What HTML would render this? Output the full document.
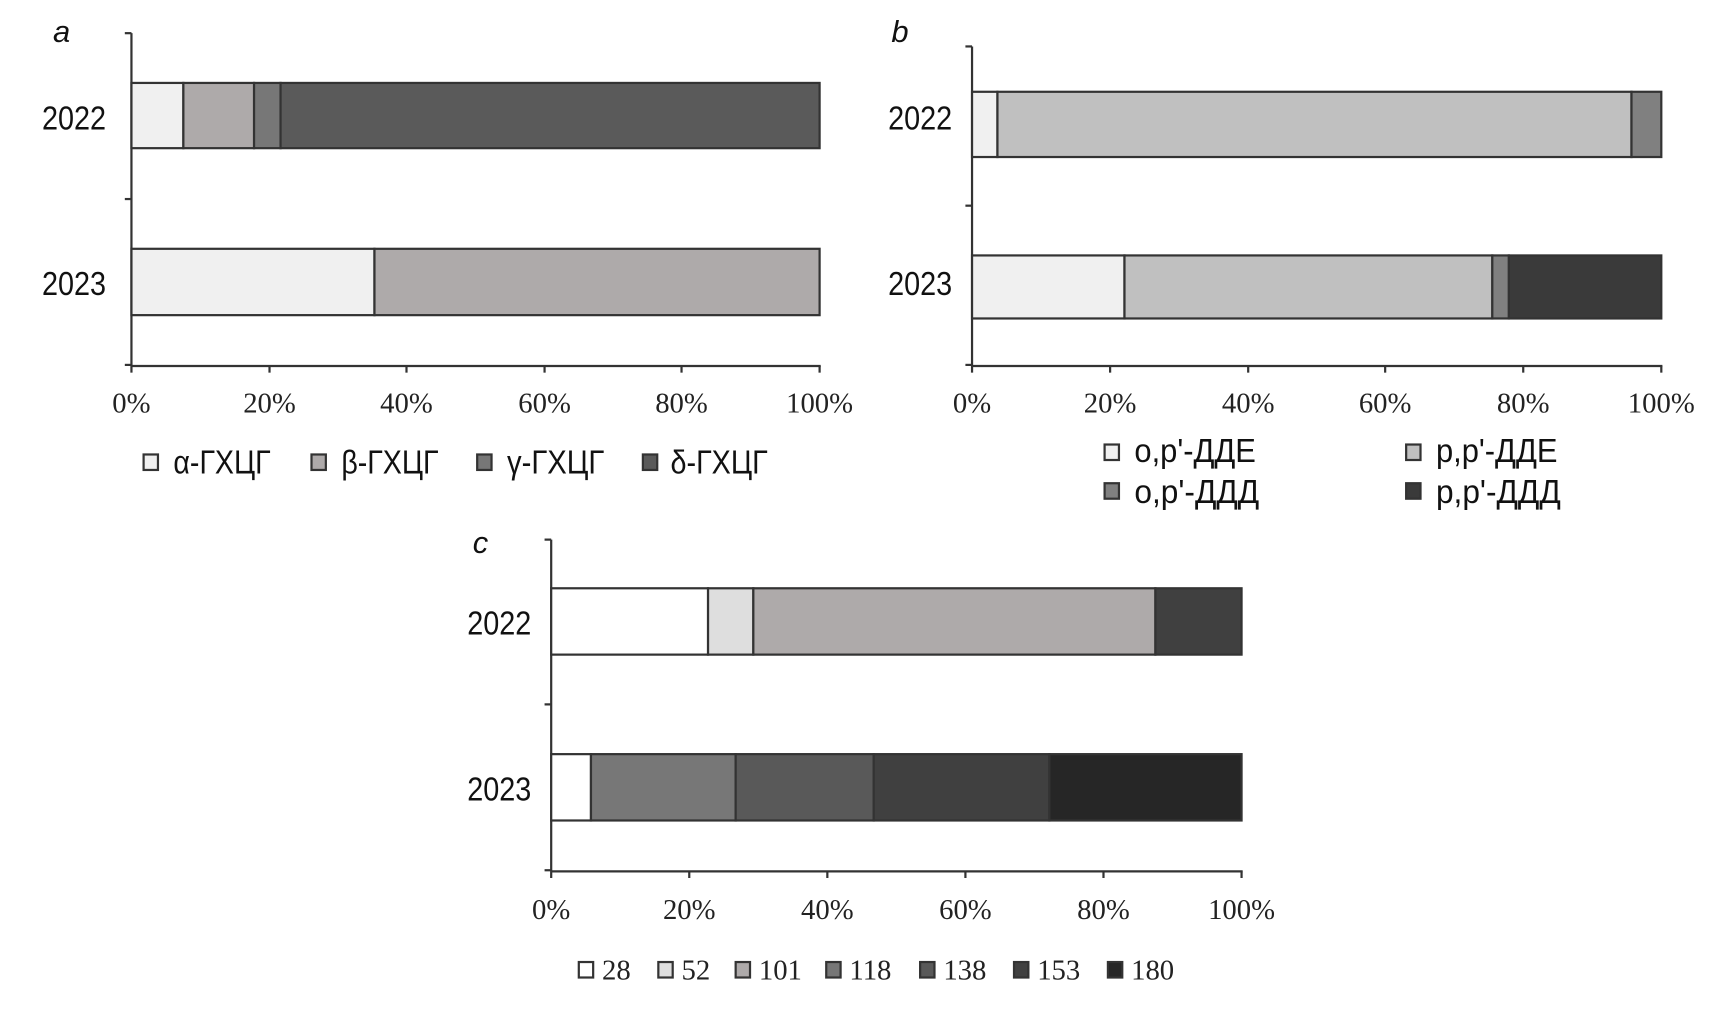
<!DOCTYPE html>
<html><head><meta charset="utf-8"><style>
html,body{margin:0;padding:0;background:#fff;width:1732px;height:1014px;overflow:hidden}
svg{display:block}
.ser{font-family:"Liberation Serif",serif;font-size:26px;fill:#222}
.nar{font-family:"Liberation Sans Narrow","Liberation Sans",sans-serif;fill:#111}
</style></head><body>
<svg width="1732" height="1014" viewBox="0 0 1568 917" preserveAspectRatio="none" xmlns="http://www.w3.org/2000/svg">
<g stroke="#333" stroke-width="2">
<line x1="119" y1="30" x2="119" y2="331"/>
<line x1="119" y1="331" x2="743" y2="331"/>
<line x1="113" y1="30" x2="119" y2="30"/><line x1="113" y1="180" x2="119" y2="180"/><line x1="113" y1="330" x2="119" y2="330"/>
<g><line x1="119" y1="331" x2="119" y2="337"/><line x1="244" y1="331" x2="244" y2="337"/><line x1="368" y1="331" x2="368" y2="337"/><line x1="493" y1="331" x2="493" y2="337"/><line x1="617" y1="331" x2="617" y2="337"/><line x1="742" y1="331" x2="742" y2="337"/></g>
<rect x="119" y="75" width="47" height="59" fill="#f0f0f0"/>
<rect x="166" y="75" width="64" height="59" fill="#aeaaaa"/>
<rect x="230" y="75" width="24" height="59" fill="#777"/>
<rect x="254" y="75" width="488" height="59" fill="#5a5a5a"/>
<rect x="119" y="225" width="220" height="60" fill="#f0f0f0"/>
<rect x="339" y="225" width="403" height="60" fill="#aeaaaa"/>
<line x1="880" y1="42" x2="880" y2="331"/>
<line x1="880" y1="331" x2="1505" y2="331"/>
<line x1="874" y1="42" x2="880" y2="42"/><line x1="874" y1="186" x2="880" y2="186"/><line x1="874" y1="330" x2="880" y2="330"/>
<g><line x1="880" y1="331" x2="880" y2="337"/><line x1="1005" y1="331" x2="1005" y2="337"/><line x1="1130" y1="331" x2="1130" y2="337"/><line x1="1254" y1="331" x2="1254" y2="337"/><line x1="1379" y1="331" x2="1379" y2="337"/><line x1="1504" y1="331" x2="1504" y2="337"/></g>
<rect x="880" y="83" width="23" height="59" fill="#f0f0f0"/>
<rect x="903" y="83" width="574" height="59" fill="#c0c0c0"/>
<rect x="1477" y="83" width="27" height="59" fill="#808080"/>
<rect x="880" y="231" width="138" height="57" fill="#f0f0f0"/>
<rect x="1018" y="231" width="333" height="57" fill="#c0c0c0"/>
<rect x="1351" y="231" width="15" height="57" fill="#808080"/>
<rect x="1366" y="231" width="138" height="57" fill="#3a3a3a"/>
<line x1="499" y1="488" x2="499" y2="788"/>
<line x1="499" y1="788" x2="1125" y2="788"/>
<line x1="493" y1="488" x2="499" y2="488"/><line x1="493" y1="637" x2="499" y2="637"/><line x1="493" y1="787" x2="499" y2="787"/>
<g><line x1="499" y1="788" x2="499" y2="794"/><line x1="624" y1="788" x2="624" y2="794"/><line x1="749" y1="788" x2="749" y2="794"/><line x1="874" y1="788" x2="874" y2="794"/><line x1="999" y1="788" x2="999" y2="794"/><line x1="1124" y1="788" x2="1124" y2="794"/></g>
<rect x="499" y="532" width="142" height="60" fill="#fff"/>
<rect x="641" y="532" width="41" height="60" fill="#dedede"/>
<rect x="682" y="532" width="364" height="60" fill="#aeaaaa"/>
<rect x="1046" y="532" width="78" height="60" fill="#404040"/>
<rect x="499" y="682" width="36" height="60" fill="#fff"/>
<rect x="535" y="682" width="131" height="60" fill="#777"/>
<rect x="666" y="682" width="125" height="60" fill="#595959"/>
<rect x="791" y="682" width="159" height="60" fill="#404040"/>
<rect x="950" y="682" width="174" height="60" fill="#262626"/>
<rect x="130" y="411" width="13" height="14" fill="#f0f0f0"/>
<rect x="282" y="411" width="13" height="14" fill="#aeaaaa"/>
<rect x="432" y="411" width="13" height="14" fill="#777"/>
<rect x="582" y="411" width="13" height="14" fill="#5a5a5a"/>
<rect x="1000" y="402" width="13" height="14" fill="#f0f0f0"/>
<rect x="1273" y="402" width="13" height="14" fill="#c0c0c0"/>
<rect x="1000" y="437" width="13" height="14" fill="#808080"/>
<rect x="1273" y="437" width="13" height="14" fill="#3a3a3a"/>
<rect x="524" y="870" width="13" height="14" fill="#fff"/>
<rect x="596" y="870" width="13" height="14" fill="#dedede"/>
<rect x="666" y="870" width="13" height="14" fill="#aeaaaa"/>
<rect x="748" y="870" width="13" height="14" fill="#777"/>
<rect x="833" y="870" width="13" height="14" fill="#595959"/>
<rect x="918" y="870" width="13" height="14" fill="#404040"/>
<rect x="1003" y="870" width="13" height="14" fill="#262626"/>
</g>
<g class="ser" text-anchor="middle">
<text x="119" y="373">0%</text><text x="244" y="373">20%</text><text x="368" y="373">40%</text><text x="493" y="373">60%</text><text x="617" y="373">80%</text><text x="742" y="373">100%</text>
<text x="880" y="373">0%</text><text x="1005" y="373">20%</text><text x="1130" y="373">40%</text><text x="1254" y="373">60%</text><text x="1379" y="373">80%</text><text x="1504" y="373">100%</text>
<text x="499" y="831">0%</text><text x="624" y="831">20%</text><text x="749" y="831">40%</text><text x="874" y="831">60%</text><text x="999" y="831">80%</text><text x="1124" y="831">100%</text>
</g>
<g class="ser">
<text x="545" y="886">28</text><text x="617" y="886">52</text><text x="687" y="886">101</text><text x="769" y="886">118</text><text x="854" y="886">138</text><text x="939" y="886">153</text><text x="1024" y="886">180</text>
</g>
<g class="nar" font-size="30">
<text x="38" y="117" textLength="58" lengthAdjust="spacingAndGlyphs">2022</text>
<text x="38" y="267" textLength="58" lengthAdjust="spacingAndGlyphs">2023</text>
<text x="804" y="117" textLength="58" lengthAdjust="spacingAndGlyphs">2022</text>
<text x="804" y="267" textLength="58" lengthAdjust="spacingAndGlyphs">2023</text>
<text x="423" y="574" textLength="58" lengthAdjust="spacingAndGlyphs">2022</text>
<text x="423" y="724" textLength="58" lengthAdjust="spacingAndGlyphs">2023</text>
<text x="157" y="428" textLength="88" lengthAdjust="spacingAndGlyphs">α-ГХЦГ</text>
<text x="309" y="428" textLength="88" lengthAdjust="spacingAndGlyphs">β-ГХЦГ</text>
<text x="459" y="428" textLength="88" lengthAdjust="spacingAndGlyphs">γ-ГХЦГ</text>
<text x="607" y="428" textLength="88" lengthAdjust="spacingAndGlyphs">δ-ГХЦГ</text>
<text x="1027" y="418" textLength="110" lengthAdjust="spacingAndGlyphs">o,p'-ДДЕ</text>
<text x="1300" y="418" textLength="110" lengthAdjust="spacingAndGlyphs">p,p'-ДДЕ</text>
<text x="1027" y="455" textLength="113" lengthAdjust="spacingAndGlyphs">o,p'-ДДД</text>
<text x="1300" y="455" textLength="113" lengthAdjust="spacingAndGlyphs">p,p'-ДДД</text>
<text x="48" y="38" font-style="italic" font-size="28">a</text>
<text x="807" y="38" font-style="italic" font-size="28">b</text>
<text x="428" y="500" font-style="italic" font-size="28">c</text>
</g>
</svg>
</body></html>
